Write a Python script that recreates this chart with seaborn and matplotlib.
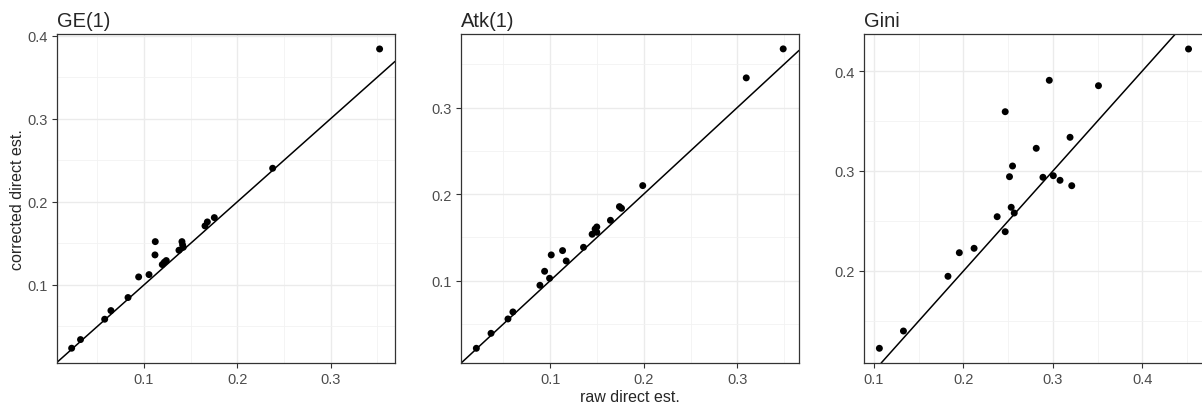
import matplotlib
matplotlib.use("Agg")
import matplotlib.pyplot as plt
import seaborn as sns
import pandas as pd
from matplotlib.ticker import MultipleLocator

# values: raw direct estimate (x) vs corrected direct estimate (y)
ge_raw = [0.0225, 0.032, 0.0579, 0.0646, 0.0829, 0.0943, 0.1054, 0.1121, 0.1118, 0.1196, 0.1218,
          0.1239, 0.1375, 0.1407, 0.1414, 0.1421, 0.1654, 0.1679, 0.1754, 0.2379, 0.3525]
ge_cor = [0.0238, 0.0342, 0.0587, 0.0691, 0.0848, 0.1096, 0.1124, 0.1521, 0.1361, 0.1245, 0.1273,
          0.1293, 0.1417, 0.1521, 0.1481, 0.1453, 0.171, 0.1758, 0.181, 0.2404, 0.384]

atk_raw = [0.021, 0.0367, 0.0548, 0.0601, 0.089, 0.094, 0.0993, 0.1011, 0.1132, 0.1171, 0.1356,
           0.1448, 0.148, 0.1498, 0.1498, 0.1644, 0.174, 0.1762, 0.1989, 0.3096, 0.3491]
atk_cor = [0.0218, 0.0391, 0.0557, 0.0638, 0.0946, 0.1108, 0.1027, 0.1297, 0.1347, 0.1227, 0.1385,
           0.1536, 0.1597, 0.162, 0.1559, 0.1697, 0.1855, 0.1836, 0.2098, 0.3343, 0.3678]

gini_raw = [0.106, 0.1329, 0.1827, 0.1954, 0.2119, 0.2377, 0.2467, 0.2467, 0.2515, 0.2534, 0.2549,
            0.2568, 0.2814, 0.2889, 0.296, 0.3005, 0.308, 0.3192, 0.3211, 0.351, 0.4517]
gini_cor = [0.1227, 0.14, 0.1947, 0.2183, 0.2227, 0.2543, 0.2393, 0.3593, 0.2943, 0.2637, 0.305,
            0.258, 0.3227, 0.2937, 0.3907, 0.2953, 0.2907, 0.3337, 0.2853, 0.3853, 0.422]

titles = ["GE(1)", "Atk(1)", "Gini"]

sns.set_style("white")
plt.rcParams["font.family"] = ["Liberation Sans", "DejaVu Sans"]

fig = plt.figure(figsize=(12.02, 4.10), dpi=100)

boxes = [[57/1202, 46/410, 338/1202, 329/410],
         [461/1202, 46/410, 338/1202, 329/410],
         [864/1202, 46/410, 340/1202, 329/410]]
xlims = [(0.0068, 0.369), (0.0046, 0.366), (0.0888, 0.469)]
ylims = [(0.006, 0.402), (0.0048, 0.385), (0.108, 0.437)]
data = [(ge_raw, ge_cor), (atk_raw, atk_cor), (gini_raw, gini_cor)]

for i in range(3):
    ax = fig.add_axes(boxes[i])
    df = pd.DataFrame({"raw": data[i][0], "corrected": data[i][1]})
    sns.scatterplot(data=df, x="raw", y="corrected", ax=ax, color="black",
                    s=25, edgecolor="none", zorder=3)
    ax.axline((0, 0), slope=1, color="black", lw=1.1, zorder=2)
    ax.set_xlim(*xlims[i])
    ax.set_ylim(*ylims[i])
    ax.xaxis.set_major_locator(MultipleLocator(0.1))
    ax.yaxis.set_major_locator(MultipleLocator(0.1))
    ax.xaxis.set_minor_locator(MultipleLocator(0.05))
    ax.yaxis.set_minor_locator(MultipleLocator(0.05))
    ax.grid(which="major", color="#EBEBEB", lw=1.0, zorder=0)
    ax.grid(which="minor", color="#F2F2F2", lw=0.6, zorder=0)
    ax.set_axisbelow(True)
    ax.tick_params(which="major", length=3.5, width=0.8, color="#333333",
                   labelsize=10.5, labelcolor="#4D4D4D", pad=3, left=True, bottom=True)
    ax.tick_params(which="minor", length=0)
    for sp in ax.spines.values():
        sp.set_color("#333333")
        sp.set_linewidth(0.9)
    ax.set_title(titles[i], loc="left", fontsize=14.5, pad=6)
    ax.set_xlabel("")
    ax.set_ylabel("")

fig.axes[1].set_xlabel("raw direct est.", fontsize=11.5, labelpad=2)
fig.axes[0].set_ylabel("corrected direct est.", fontsize=11.5, labelpad=2)

fig.savefig("out.png", dpi=100)
